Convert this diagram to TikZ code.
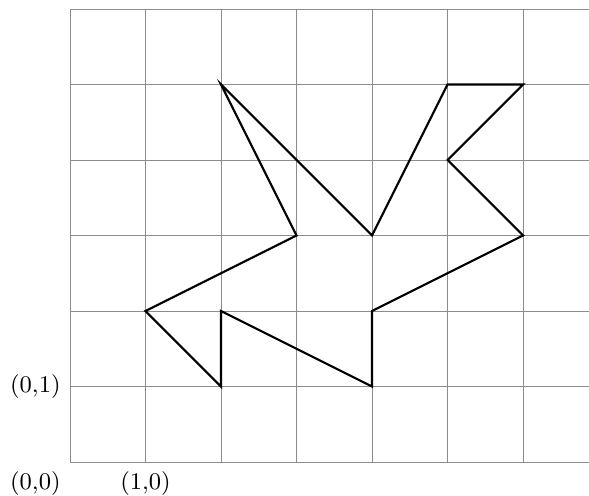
\documentclass[tikz,border=0pt]{standalone}
\usepackage{tikz}
\usetikzlibrary{positioning}

\begin{document}
\begin{tikzpicture}[
  every node/.style={font=\small},
  gridline/.style={draw=gray!90, line width=0.35pt},
  shape line/.style={draw=black, thick, line join=miter},
]
  % Bounding box
  \useasboundingbox (-0.927,-0.437) rectangle (6.874,6.119);

  % Grid
  \draw[gridline] (0,0) grid (6.874,6);

  % Labels
  \node[below left] (lblO) at (0,0) {(0,0)};
  \node[left] (lblY) at (0,1) {(0,1)};
  \node[below] (lblX) at (1,0) {(1,0)};

  % Polygon
  \draw[shape line] (2,5) -- (3,3) -- (1,2) -- (2,1) -- (2,2) -- (4,1) -- (4,2)
    -- (6,3) -- (5,4) -- (6,5) -- (5,5) -- (4,3) -- cycle;
\end{tikzpicture}
\end{document}
